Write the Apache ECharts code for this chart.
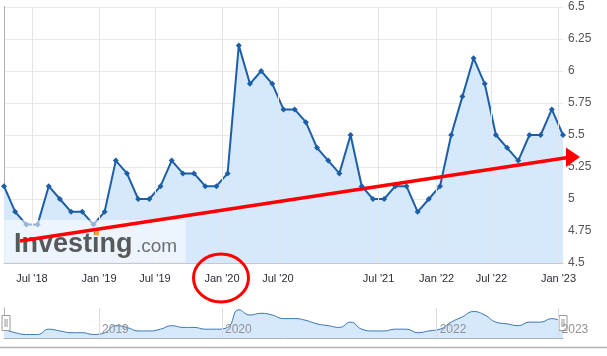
<!DOCTYPE html>
<html>
<head>
<meta charset="utf-8">
<script src="https://cdn.jsdelivr.net/npm/echarts@6/dist/echarts.min.js"></script>
<style>
html,body{margin:0;padding:0;background:#fff;}
#chart{width:607px;height:356px;}
</style>
</head>
<body>
<div id="chart"></div>
<script>
// Values, one per release (evenly spaced on the axis)
const values = [5.1, 4.9, 4.8, 4.8, 5.1, 5.0, 4.9, 4.9, 4.8, 4.9,
                5.3, 5.2, 5.0, 5.0, 5.1, 5.3, 5.2, 5.2, 5.1, 5.1,
                5.2, 6.2, 5.9, 6.0, 5.9, 5.7, 5.7, 5.6, 5.4, 5.3,
                5.2, 5.5, 5.1, 5.0, 5.0, 5.1, 5.1, 4.9, 5.0, 5.1,
                5.5, 5.8, 6.1, 5.9, 5.5, 5.4, 5.3, 5.5, 5.5, 5.7, 5.5];
// Date tick labels and where they fall along the release index
const tickPositions = [2.5, 8.5, 13.5, 19.5, 24.5, 33.5, 38.7, 43.6, 49.6];
const tickLabels = ["Jul '18", "Jan '19", "Jul '19", "Jan '20", "Jul '20", "Jul '21", "Jan '22", "Jul '22", "Jan '23"];
// Year labels in the navigator
const yearPositions = [8.5, 19.5, 38.7, 49.6];
const yearLabels = ['2019', '2020', '2022', '2023'];

const FONT = '"Liberation Sans", Arial, sans-serif';
const seriesData = values.map((v, i) => [i, v]);
const lastIndex = values.length - 1;

const chart = echarts.init(document.getElementById('chart'), null, {renderer: 'canvas'});
chart.setOption({
  animation: false,
  backgroundColor: '#fff',
  grid: [
    {left: 4, right: 44, top: 7, bottom: 93},
    {left: 4, right: 44, top: 308, height: 30}
  ],
  xAxis: [{
    type: 'value', gridIndex: 0, min: 0, max: lastIndex,
    axisLine: {show: true, lineStyle: {color: '#c8c8c8'}},
    axisTick: {show: false},
    splitLine: {show: false},
    axisLabel: {
      customValues: tickPositions,
      formatter: v => { const k = tickPositions.indexOf(v); return k >= 0 ? tickLabels[k] : ''; },
      color: '#2b2b36', fontSize: 11, fontFamily: FONT, margin: 10
    }
  }, {
    type: 'value', gridIndex: 1, min: 0, max: lastIndex, z: 20,
    axisLine: {show: true, lineStyle: {color: '#b0b0b0'}},
    axisTick: {show: false},
    splitLine: {show: false},
    axisLabel: {
      customValues: yearPositions,
      formatter: v => { const k = yearPositions.indexOf(v); return k >= 0 ? yearLabels[k] : ''; },
      inside: true, align: 'left', margin: 2, padding: [0, 0, 0, 3],
      color: '#929292', fontSize: 12, fontFamily: FONT
    }
  }],
  yAxis: [{
    type: 'value', gridIndex: 0, position: 'right', min: 4.5, max: 6.5, interval: 0.25,
    axisLine: {show: true, lineStyle: {color: '#a0a0a0'}},
    axisTick: {show: false},
    splitLine: {show: true, lineStyle: {color: '#e8e8e8'}},
    axisLabel: {color: '#555', fontSize: 12, fontFamily: FONT, margin: 5}
  }, {
    type: 'value', gridIndex: 0, position: 'left', min: 4.5, max: 6.5,
    axisLine: {show: true, lineStyle: {color: '#b0b0b0'}},
    axisTick: {show: false}, axisLabel: {show: false}, splitLine: {show: false}
  }, {
    type: 'value', gridIndex: 1, min: 4.6, max: 6.3,
    axisLine: {show: true, lineStyle: {color: '#b0b0b0'}},
    axisTick: {show: false}, axisLabel: {show: false}, splitLine: {show: false}
  }],
  dataZoom: [{
    type: 'slider', xAxisIndex: 0, filterMode: 'none', start: 0, end: 100,
    left: 4, right: 44, top: 308, height: 30,
    showDataShadow: false, showDetail: false, brushSelect: false,
    backgroundColor: 'rgba(0,0,0,0)', fillerColor: 'rgba(0,0,0,0)', borderColor: 'rgba(0,0,0,0)',
    handleIcon: 'path://M0,0H8V15H0Z M3,3.5V11.5 M5,3.5V11.5',
    handleSize: '50%',
    handleStyle: {color: '#fff', borderColor: '#999', borderWidth: 1},
    moveHandleSize: 0, moveHandleStyle: {opacity: 0},
    emphasis: {handleStyle: {color: '#fff', borderColor: '#999'}, moveHandleStyle: {opacity: 0}}
  }],
  series: [{
    type: 'line', xAxisIndex: 0, yAxisIndex: 0,
    data: seriesData,
    symbol: 'diamond', symbolSize: 6,
    itemStyle: {color: '#1c5fa7'},
    lineStyle: {color: '#1c5fa7', width: 2},
    areaStyle: {color: '#d6e8fc', opacity: 1},
    z: 3,
    markLine: {
      silent: true, symbol: 'none', label: {show: false},
      lineStyle: {color: '#e4e4e4', type: 'solid', width: 1},
      data: tickPositions.map(p => ({xAxis: p}))
    }
  }, {
    type: 'line', xAxisIndex: 1, yAxisIndex: 2,
    data: seriesData, smooth: true, symbol: 'none', silent: true,
    lineStyle: {color: '#3a76b6', width: 1},
    areaStyle: {color: '#d6e8fc', opacity: 1},
    markLine: {
      silent: true, symbol: 'none', label: {show: false},
      lineStyle: {color: '#dcdcdc', type: 'solid', width: 1},
      data: yearPositions.map(p => ({xAxis: p}))
    }
  }],
  graphic: [
    {type: 'rect', z: 100, shape: {x: 4.5, y: 220, width: 181, height: 42.5},
     style: {fill: 'rgba(255,255,255,0.55)'}},
    {type: 'text', z: 101, x: 14, y: 258,
     style: {text: 'Investing', font: 'bold 27px ' + FONT, fill: '#58595b', verticalAlign: 'bottom'}},
    {type: 'rect', z: 102, shape: {x: 94.5, y: 231, width: 4.5, height: 4.5},
     style: {fill: '#f5a623'}},
    {type: 'text', z: 101, x: 136, y: 256.5,
     style: {text: '.com', font: '19px ' + FONT, fill: '#6d6e71', verticalAlign: 'bottom'}},
    {type: 'line', z: 110, shape: {x1: 20, y1: 241, x2: 568, y2: 157.5},
     style: {stroke: '#ff0000', lineWidth: 3.5}},
    {type: 'polygon', z: 110, shape: {points: [[566, 147.5], [580, 157], [566, 167]]},
     style: {fill: '#ff0000'}},
    {type: 'ellipse', z: 110, shape: {cx: 221, cy: 278, rx: 27.5, ry: 24},
     style: {fill: 'none', stroke: '#ff0000', lineWidth: 3}},
    {type: 'line', z: 90, shape: {x1: 0, y1: 347.5, x2: 607, y2: 347.5},
     style: {stroke: '#b5b5b5', lineWidth: 1.5}}
  ]
});
</script>
</body>
</html>
